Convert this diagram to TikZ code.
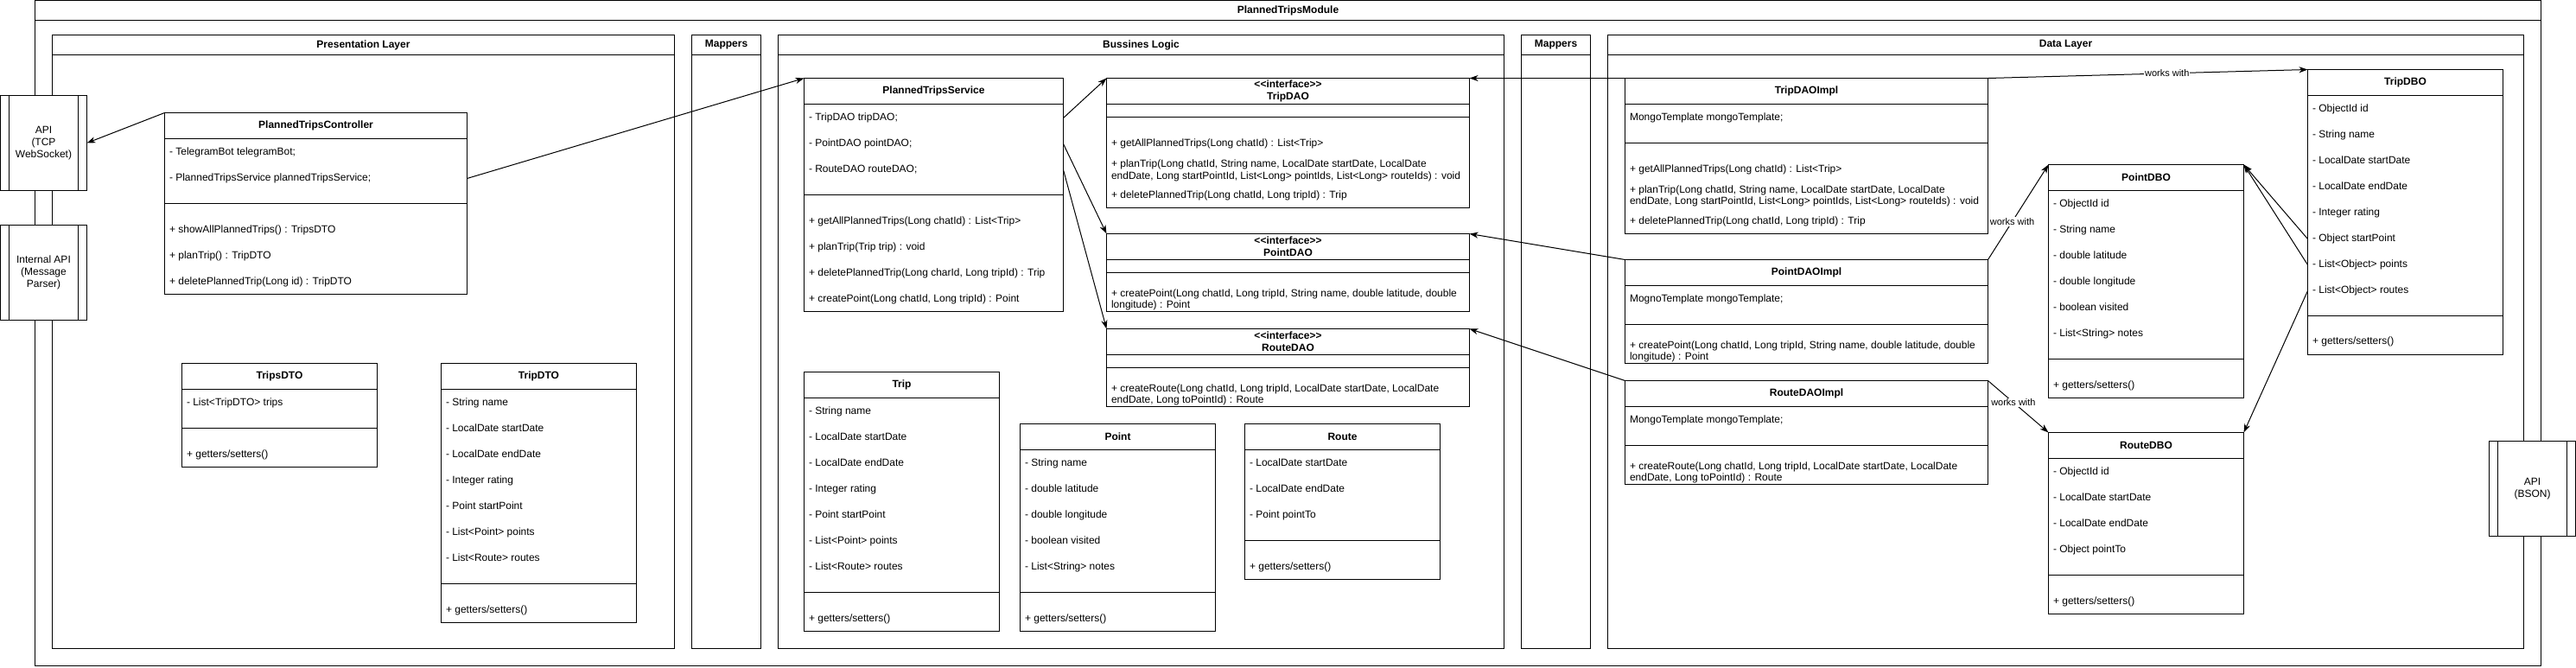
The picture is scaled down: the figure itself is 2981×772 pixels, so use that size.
\documentclass[tikz,border=0pt]{standalone}
\usepackage{fontspec}
\setmainfont{Liberation Sans}
\usetikzlibrary{arrows.meta}
\tikzset{
  ln/.style={line width=1pt},
  box/.style={draw, line width=1pt, fill=white, inner sep=0pt, outer sep=0pt, anchor=north west},
  txt/.style={inner sep=0pt, outer sep=0pt, anchor=west, font=\fontsize{12}{14}\selectfont, text height=9pt, text depth=2.5pt},
  ctxt/.style={align=center, font=\fontsize{12}{14}\selectfont},
  ttl/.style={inner sep=0pt, outer sep=0pt, align=center, font=\fontsize{12}{14}\selectfont\bfseries},
  conn/.style={line width=1pt, -{Stealth[length=10pt,width=7pt,inset=3pt]}},
  lbl/.style={fill=white, inner sep=1pt, font=\fontsize{11}{13}\selectfont},
}
\newcommand\ifc{<{}<interface>{}>}
\newcounter{tcnt}
\newcommand\mytx[3]{\stepcounter{tcnt}\node[txt] (tx\arabic{tcnt}) at (#1,#2) {#3};}
\newcommand\umlclass[8]{%
  \node[box, minimum width=#4pt, minimum height=#5pt] (#1) at (#2,#3) {};
  \draw[ln] (#1.west |- 0,#6) -- (#1.east |- 0,#6);
  \draw[ln] (#1.west |- 0,#7) -- (#1.east |- 0,#7);
  \path (#1.north) -- (#1.north |- 0,#6) node[midway, ttl] (#1-t) {#8};
}
\newcommand\mylane[6]{%
  \node[box, minimum width=#4pt, minimum height=#5pt] (#1) at (#2,#3) {};
  \draw[ln] ([yshift=-23pt]#1.north west) -- ([yshift=-23pt]#1.north east);
  \path (#1.north) -- ([yshift=-23pt]#1.north) node[midway, ttl] (#1-t) {#6};
}
\newcommand\procbox[6]{%
  \node[box, ctxt, minimum width=#4pt, minimum height=#5pt] (#1) at (#2,#3) {#6};
  \draw[ln] ([xshift=10pt]#1.north west) -- ([xshift=10pt]#1.south west);
  \draw[ln] ([xshift=-10pt]#1.north east) -- ([xshift=-10pt]#1.south east);
}
\begin{document}
\begin{tikzpicture}[x=1pt,y=-1pt]
\useasboundingbox (-0.5,-0.5) rectangle (2980.5,771.5);
% containers
\mylane{module}{40}{0}{2900}{770}{PlannedTripsModule}
\mylane{pres}{60}{40}{720}{710}{Presentation Layer}
\mylane{mapa}{800}{40}{80}{710}{Mappers}
\mylane{logic}{900}{40}{840}{710}{Bussines Logic}
\mylane{mapb}{1760}{40}{80}{710}{Mappers}
\mylane{data}{1860}{40}{1060}{710}{Data Layer}
% external APIs
\procbox{apitcp}{0}{110}{100}{110}{API\\(TCP\\WebSocket)}
\procbox{apiint}{0}{260}{100}{110}{Internal API\\(Message\\Parser)}
\procbox{apibson}{2880}{510}{100}{110}{API\\(BSON)}
% Presentation layer
\umlclass{ctrl}{190}{130}{350}{210}{160}{235}{PlannedTripsController}
\mytx{195.5}{176}{- TelegramBot telegramBot;}
\node[txt] (ctrla2) at (195.5,206) {- PlannedTripsService plannedTripsService;};
\mytx{195.5}{266}{+ showAllPlannedTrips() : TripsDTO}
\mytx{195.5}{296}{+ planTrip() : TripDTO}
\mytx{195.5}{326}{+ deletePlannedTrip(Long id) : TripDTO}
\umlclass{tripsdto}{210}{420}{226}{120}{450}{495}{TripsDTO}
\mytx{215.5}{466}{- List<TripDTO> trips}
\mytx{215.5}{526}{+ getters/setters()}
\umlclass{tripdto}{510}{420}{226}{300}{450}{675}{TripDTO}
\mytx{515.5}{466}{- String name}
\mytx{515.5}{496}{- LocalDate startDate}
\mytx{515.5}{526}{- LocalDate endDate}
\mytx{515.5}{556}{- Integer rating}
\mytx{515.5}{586}{- Point startPoint}
\mytx{515.5}{616}{- List<Point> points}
\mytx{515.5}{646}{- List<Route> routes}
\mytx{515.5}{706}{+ getters/setters()}
% Business logic
\umlclass{svc}{930}{90}{300}{270}{120}{225}{PlannedTripsService}
\node[txt] (svca1) at (935.5,136) {- TripDAO tripDAO;};
\node[txt] (svca2) at (935.5,166) {- PointDAO pointDAO;};
\node[txt] (svca3) at (935.5,196) {- RouteDAO routeDAO;};
\mytx{935.5}{256}{+ getAllPlannedTrips(Long chatId) : List<Trip>}
\mytx{935.5}{286}{+ planTrip(Trip trip) : void}
\mytx{935.5}{316}{+ deletePlannedTrip(Long charId, Long tripId) : Trip}
\mytx{935.5}{346}{+ createPoint(Long chatId, Long tripId) : Point}
\umlclass{tripdao}{1280}{90}{420}{150}{120}{135}{\ifc\\TripDAO}
\mytx{1285.5}{166}{+ getAllPlannedTrips(Long chatId) : List<Trip>}
\mytx{1285.5}{190}{+ planTrip(Long chatId, String name, LocalDate startDate, LocalDate}
\mytx{1285.5}{204}{endDate, Long startPointId, List<Long> pointIds, List<Long> routeIds) : void}
\mytx{1285.5}{226}{+ deletePlannedTrip(Long chatId, Long tripId) : Trip}
\umlclass{pointdao}{1280}{270}{420}{90}{300}{315}{\ifc\\PointDAO}
\mytx{1285.5}{340}{+ createPoint(Long chatId, Long tripId, String name, double latitude, double}
\mytx{1285.5}{353}{longitude) : Point}
\umlclass{routedao}{1280}{380}{420}{90}{410}{425}{\ifc\\RouteDAO}
\mytx{1285.5}{450}{+ createRoute(Long chatId, Long tripId, LocalDate startDate, LocalDate}
\mytx{1285.5}{463}{endDate, Long toPointId) : Route}
\umlclass{trip}{930}{430}{226}{300}{460}{685}{Trip}
\mytx{935.5}{476}{- String name}
\mytx{935.5}{506}{- LocalDate startDate}
\mytx{935.5}{536}{- LocalDate endDate}
\mytx{935.5}{566}{- Integer rating}
\mytx{935.5}{596}{- Point startPoint}
\mytx{935.5}{626}{- List<Point> points}
\mytx{935.5}{656}{- List<Route> routes}
\mytx{935.5}{716}{+ getters/setters()}
\umlclass{point}{1180}{490}{226}{240}{520}{685}{Point}
\mytx{1185.5}{536}{- String name}
\mytx{1185.5}{566}{- double latitude}
\mytx{1185.5}{596}{- double longitude}
\mytx{1185.5}{626}{- boolean visited}
\mytx{1185.5}{656}{- List<String> notes}
\mytx{1185.5}{716}{+ getters/setters()}
\umlclass{route}{1440}{490}{226}{180}{520}{625}{Route}
\mytx{1445.5}{536}{- LocalDate startDate}
\mytx{1445.5}{566}{- LocalDate endDate}
\mytx{1445.5}{596}{- Point pointTo}
\mytx{1445.5}{656}{+ getters/setters()}
% Data layer
\umlclass{tripimpl}{1880}{90}{420}{180}{120}{165}{TripDAOImpl}
\mytx{1885.5}{136}{MongoTemplate mongoTemplate;}
\mytx{1885.5}{196}{+ getAllPlannedTrips(Long chatId) : List<Trip>}
\mytx{1885.5}{220}{+ planTrip(Long chatId, String name, LocalDate startDate, LocalDate}
\mytx{1885.5}{233}{endDate, Long startPointId, List<Long> pointIds, List<Long> routeIds) : void}
\mytx{1885.5}{256}{+ deletePlannedTrip(Long chatId, Long tripId) : Trip}
\umlclass{pointimpl}{1880}{300}{420}{120}{330}{375}{PointDAOImpl}
\mytx{1885.5}{346}{MognoTemplate mongoTemplate;}
\mytx{1885.5}{400}{+ createPoint(Long chatId, Long tripId, String name, double latitude, double}
\mytx{1885.5}{413}{longitude) : Point}
\umlclass{routeimpl}{1880}{440}{420}{120}{470}{515}{RouteDAOImpl}
\mytx{1885.5}{486}{MongoTemplate mongoTemplate;}
\mytx{1885.5}{540}{+ createRoute(Long chatId, Long tripId, LocalDate startDate, LocalDate}
\mytx{1885.5}{553}{endDate, Long toPointId) : Route}
\umlclass{tripdbo}{2670}{80}{226}{330}{110}{365}{TripDBO}
\mytx{2675.5}{126}{- ObjectId id}
\mytx{2675.5}{156}{- String name}
\mytx{2675.5}{186}{- LocalDate startDate}
\mytx{2675.5}{216}{- LocalDate endDate}
\mytx{2675.5}{246}{- Integer rating}
\node[txt] (tdboa6) at (2675.5,276) {- Object startPoint};
\node[txt] (tdboa7) at (2675.5,306) {- List<Object> points};
\node[txt] (tdboa8) at (2675.5,336) {- List<Object> routes};
\mytx{2675.5}{395}{+ getters/setters()}
\umlclass{pointdbo}{2370}{190}{226}{270}{220}{415}{PointDBO}
\mytx{2375.5}{236}{- ObjectId id}
\mytx{2375.5}{266}{- String name}
\mytx{2375.5}{296}{- double latitude}
\mytx{2375.5}{326}{- double longitude}
\mytx{2375.5}{356}{- boolean visited}
\mytx{2375.5}{386}{- List<String> notes}
\mytx{2375.5}{446}{+ getters/setters()}
\umlclass{routedbo}{2370}{500}{226}{210}{530}{665}{RouteDBO}
\mytx{2375.5}{546}{- ObjectId id}
\mytx{2375.5}{576}{- LocalDate startDate}
\mytx{2375.5}{606}{- LocalDate endDate}
\mytx{2375.5}{636}{- Object pointTo}
\mytx{2375.5}{696}{+ getters/setters()}
% connectors
\draw[conn] (ctrl.north west) -- (apitcp.east);
\draw[conn] (ctrl.east |- ctrla2) -- (svc.north west);
\draw[conn] (svc.east |- svca1) -- (tripdao.north west);
\draw[conn] (svc.east |- svca2) -- (pointdao.north west);
\draw[conn] (svc.east |- svca3) -- (routedao.north west);
\draw[conn] (tripimpl.north west) -- (tripdao.north east);
\draw[conn] (pointimpl.north west) -- (pointdao.north east);
\draw[conn] (routeimpl.north west) -- (routedao.north east);
\draw[conn] (tripimpl.north east) -- node[lbl, pos=0.56] (wa) {works with} (tripdbo.north west);
\draw[conn] (pointimpl.north east) -- node[lbl, pos=0.4] (wb) {works with} (pointdbo.north west);
\draw[conn] (routeimpl.north east) -- node[lbl, pos=0.42] (wc) {works with} (routedbo.north west);
\draw[conn] (tripdbo.west |- tdboa6) -- (pointdbo.north east);
\draw[conn] (tripdbo.west |- tdboa7) -- (pointdbo.north east);
\draw[conn] (tripdbo.west |- tdboa8) -- (routedbo.north east);
\end{tikzpicture}
\end{document}
